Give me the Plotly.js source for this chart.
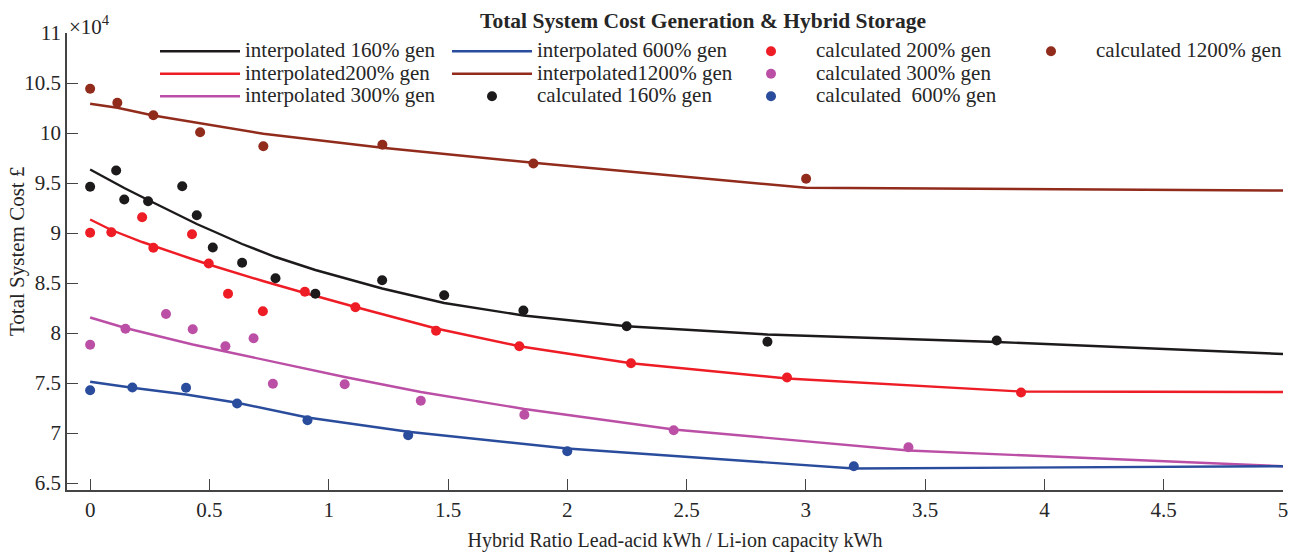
<!DOCTYPE html>
<html><head><meta charset="utf-8">
<script src="https://cdn.plot.ly/plotly-3.0.1.min.js"></script>
<style>html,body{margin:0;padding:0;background:#fff}</style>
</head><body>
<div id="chart" style="width:1299px;height:552px"></div>
<script>
// ---- data (Total System Cost, x10^4 GBP) ----
const calc160X = [0, 0.109, 0.143, 0.243, 0.386, 0.447, 0.514, 0.637, 0.777, 0.944, 1.224, 1.484, 1.816, 2.249, 2.839, 3.800];
const calc160Y = [9.462, 9.625, 9.335, 9.318, 9.468, 9.178, 8.855, 8.702, 8.548, 8.392, 8.528, 8.378, 8.225, 8.068, 7.912, 7.925];
const calc200X = [0, 0.089, 0.218, 0.265, 0.427, 0.497, 0.578, 0.724, 0.900, 1.112, 1.450, 1.799, 2.267, 2.921, 3.902];
const calc200Y = [9.002, 9.008, 9.158, 8.852, 8.988, 8.695, 8.392, 8.218, 8.412, 8.258, 8.022, 7.868, 7.698, 7.555, 7.405];
const calc300X = [0, 0.148, 0.318, 0.430, 0.567, 0.685, 0.766, 1.067, 1.386, 1.820, 2.446, 3.430];
const calc300Y = [7.882, 8.042, 8.190, 8.038, 7.868, 7.948, 7.492, 7.488, 7.322, 7.182, 7.028, 6.858];
const calc600X = [0, 0.177, 0.402, 0.616, 0.911, 1.333, 2.000, 3.201];
const calc600Y = [7.428, 7.455, 7.452, 7.295, 7.128, 6.978, 6.818, 6.668];
const calc1200X = [0, 0.114, 0.265, 0.461, 0.726, 1.225, 1.858, 3.001];
const calc1200Y = [10.442, 10.302, 10.178, 10.008, 9.868, 9.882, 9.695, 9.542];

const interp160X = [0, 0.109, 0.143, 0.243, 0.386, 0.447, 0.514, 0.637, 0.777, 0.944, 1.224, 1.484, 1.816, 2.249, 2.839, 3.800, 5];
const interp160Y = [9.635, 9.49, 9.45, 9.33, 9.16, 9.09, 9.02, 8.89, 8.76, 8.63, 8.445, 8.30, 8.175, 8.068, 7.985, 7.91, 7.79];
const interp200X = [0, 0.089, 0.218, 0.265, 0.427, 0.497, 0.578, 0.724, 0.900, 1.112, 1.450, 1.799, 2.267, 2.921, 3.902, 5];
const interp200Y = [9.135, 9.03, 8.91, 8.87, 8.74, 8.685, 8.625, 8.52, 8.40, 8.26, 8.045, 7.868, 7.698, 7.545, 7.415, 7.41];
const interp300X = [0, 0.148, 0.318, 0.430, 0.567, 0.685, 0.766, 1.067, 1.386, 1.820, 2.446, 3.430, 5];
const interp300Y = [8.155, 8.05, 7.95, 7.885, 7.815, 7.755, 7.715, 7.56, 7.41, 7.24, 7.035, 6.825, 6.668];
const interp600X = [0, 0.177, 0.402, 0.616, 0.911, 1.333, 2.000, 3.201, 5];
const interp600Y = [7.512, 7.452, 7.385, 7.302, 7.155, 7.012, 6.845, 6.645, 6.668];
const interp1200X = [0, 0.114, 0.265, 0.461, 0.726, 1.225, 1.858, 3.001, 5];
const interp1200Y = [10.292, 10.252, 10.175, 10.095, 9.992, 9.852, 9.702, 9.452, 9.425];

const xTicks = [0, 0.5, 1, 1.5, 2, 2.5, 3, 3.5, 4, 4.5, 5];
const xTickText = ['0', '0.5', '1', '1.5', '2', '2.5', '3', '3.5', '4', '4.5', '5'];
const yTicks = [6.5, 7, 7.5, 8, 8.5, 9, 9.5, 10, 10.5, 11];
const yTickText = ['6.5', '7', '7.5', '8', '8.5', '9', '9.5', '10', '10.5', '11'];

// ---- styling ----
const FONT = 'Liberation Serif, Times New Roman, serif';
const TXT = '#262626';
const AX = '#444444';
const C160 = '#1c1a1a', C200 = '#ee1c25', C300 = '#bb4fa6', C600 = '#2a4c9c', C1200 = '#912b1c';
const LW = 2.4, MS = 10;
const lbl = s => '<span style="font-size:21px">' + s + '</span>';

function lineTrace(x, y, color, name, legend) {
  return {x, y, type: 'scatter', mode: 'lines', name: lbl(name), legend,
    line: {color, width: LW}, hoverinfo: 'x+y'};
}
function dotTrace(x, y, color, name, legend) {
  return {x, y, type: 'scatter', mode: 'markers', name: lbl(name), legend,
    marker: {color, size: MS}, hoverinfo: 'x+y'};
}

const traces = [
  lineTrace(interp160X, interp160Y, C160, 'interpolated 160% gen', 'legend'),
  lineTrace(interp200X, interp200Y, C200, 'interpolated200% gen', 'legend'),
  lineTrace(interp300X, interp300Y, C300, 'interpolated 300% gen', 'legend'),
  lineTrace(interp600X, interp600Y, C600, 'interpolated 600% gen', 'legend2'),
  lineTrace(interp1200X, interp1200Y, C1200, 'interpolated1200% gen', 'legend2'),
  dotTrace(calc160X, calc160Y, C160, 'calculated 160% gen', 'legend2'),
  dotTrace(calc200X, calc200Y, C200, 'calculated 200% gen', 'legend3'),
  dotTrace(calc300X, calc300Y, C300, 'calculated 300% gen', 'legend3'),
  dotTrace(calc600X, calc600Y, C600, 'calculated&nbsp; 600% gen', 'legend3'),
  dotTrace(calc1200X, calc1200Y, C1200, 'calculated 1200% gen', 'legend4')
];

function legendAt(px) {
  return {x: px / 1299, y: 1 - 35 / 552, xref: 'container', yref: 'container',
    xanchor: 'left', yanchor: 'top', orientation: 'v', bgcolor: 'rgba(0,0,0,0)',
    borderwidth: 0, itemwidth: 80, tracegroupgap: 0, traceorder: 'normal',
    font: {family: FONT, size: 15, color: TXT}};
}

const layout = {
  width: 1299, height: 552,
  margin: {l: 67, r: 16, t: 33, b: 62, autoexpand: false},
  paper_bgcolor: '#ffffff', plot_bgcolor: '#ffffff',
  font: {family: FONT, color: TXT, size: 21},
  title: {text: '<b>Total System Cost Generation & Hybrid Storage</b>',
    font: {family: FONT, size: 21.5, color: TXT},
    x: 703 / 1299, xref: 'container', xanchor: 'center',
    y: 1 - 20 / 552, yref: 'container', yanchor: 'middle'},
  xaxis: {range: [-0.097, 5], tickvals: xTicks, ticktext: xTickText,
    showline: true, linecolor: AX, linewidth: 1.5, mirror: false,
    ticks: 'inside', ticklen: 11, tickwidth: 1.3, tickcolor: AX,
    showgrid: false, zeroline: false,
    tickfont: {family: FONT, size: 21, color: TXT},
    title: {text: 'Hybrid Ratio Lead-acid kWh / Li-ion capacity kWh',
      font: {family: FONT, size: 20, color: TXT}, standoff: 14}},
  yaxis: {range: [6.43, 11], tickvals: yTicks, ticktext: yTickText,
    showline: true, linecolor: AX, linewidth: 1.5, mirror: false,
    ticks: 'inside', ticklen: 11, tickwidth: 1.3, tickcolor: AX,
    showgrid: false, zeroline: false,
    tickfont: {family: FONT, size: 21, color: TXT}},
  legend: legendAt(155),
  legend2: legendAt(447),
  legend3: legendAt(726),
  legend4: legendAt(1006),
  annotations: [
    {text: '×10<sup>4</sup>', xref: 'paper', yref: 'paper', x: 0, y: 1,
      xanchor: 'left', yanchor: 'bottom', showarrow: false, yshift: -8,
      font: {family: FONT, size: 21, color: TXT}},
    {text: 'Total System Cost £', xref: 'paper', yref: 'paper',
      x: -0.0411, y: 0.5208, xanchor: 'center', yanchor: 'middle',
      textangle: -90, showarrow: false,
      font: {family: FONT, size: 21, color: TXT}}
  ],
  showlegend: true
};

Plotly.newPlot('chart', traces, layout, {displayModeBar: false, responsive: false});
</script>
</body></html>
